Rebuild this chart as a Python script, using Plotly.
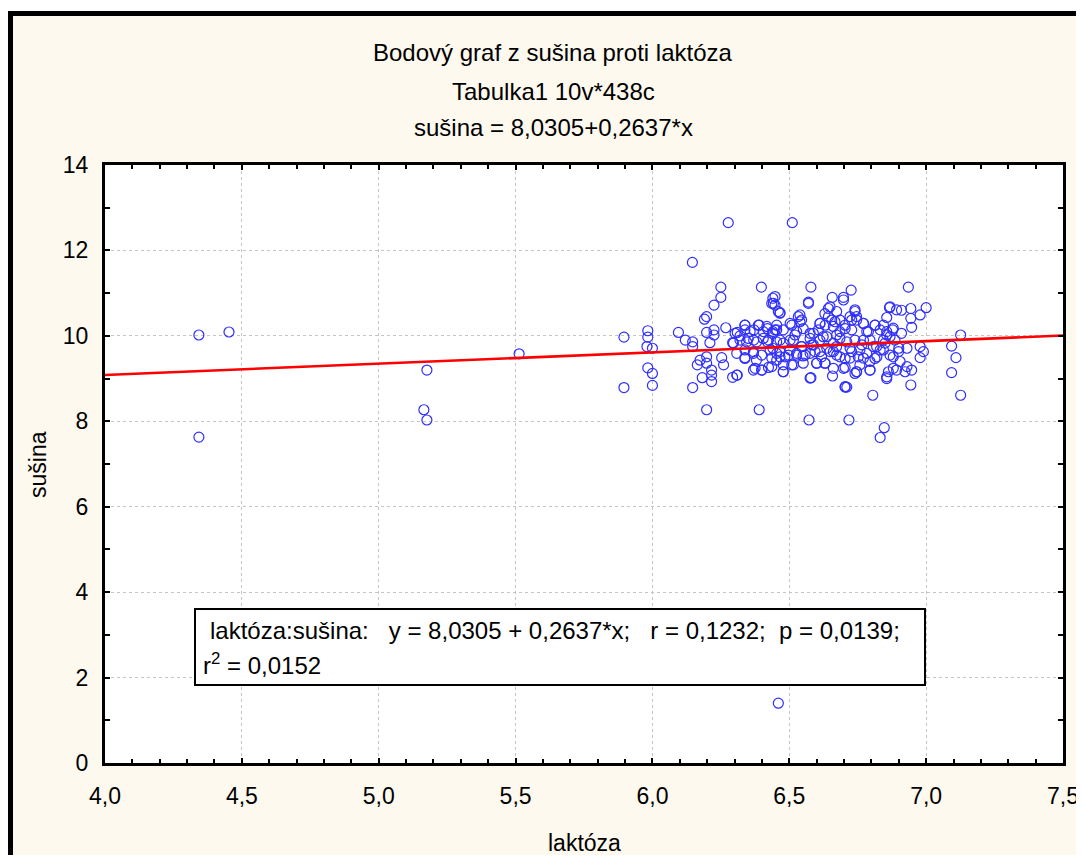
import plotly.graph_objects as go

# ---------------- data ----------------
laktoza = [
    4.343, 4.453, 4.343, 5.176, 5.165, 5.176, 5.513, 6.460, 6.277, 6.511, 6.146,
    5.896, 5.896, 5.983, 5.983, 5.980, 6.000, 5.983, 6.000, 6.000, 6.095, 6.120,
    6.147, 6.147, 6.147, 6.164, 6.182, 6.190, 6.198, 6.225, 6.250, 6.250, 6.198,
    6.225, 6.225, 6.210, 6.198, 6.198, 6.174, 6.216, 6.216, 6.216, 6.253, 6.260,
    6.198, 6.268, 6.293, 6.310, 6.398, 6.390, 6.293, 6.310, 6.320, 6.338, 6.338,
    6.371, 6.390, 6.405, 6.338, 6.338, 6.369, 6.380, 6.375, 6.400, 6.424, 6.344,
    6.370, 6.420, 6.440, 6.454, 6.440, 6.448, 6.460, 6.420, 6.440, 6.466, 6.436,
    6.454,
    6.448, 6.436, 6.466, 6.579, 6.570, 6.657, 6.698, 6.726, 6.935, 7.000, 6.978,
    6.944, 6.944, 6.910, 6.866, 6.856, 6.947, 6.910, 6.878, 6.856, 7.126, 7.093,
    7.109, 7.093, 7.126, 6.978, 6.990, 6.978, 6.930, 6.900, 6.880, 6.905, 6.930,
    6.947, 6.923, 6.892, 6.862, 6.856, 6.944, 6.805, 6.572, 6.718, 6.847, 6.832,
    6.704, 6.710, 6.579, 6.658, 6.740, 6.746, 6.795, 6.758, 6.704, 6.478, 6.478,
    6.515, 6.550, 6.600, 6.630,
    6.484, 6.527, 6.576, 6.612, 6.661, 6.685, 6.722, 6.771, 6.795, 6.820, 6.832,
    6.807, 6.758, 6.722, 6.673, 6.637, 6.588, 6.545, 6.503, 6.454,
    6.440, 6.478, 6.503, 6.533, 6.539, 6.551, 6.588, 6.612, 6.630, 6.643, 6.655,
    6.673, 6.685, 6.704, 6.728, 6.740, 6.746, 6.771, 6.789, 6.813, 6.832, 6.728,
    6.673, 6.624, 6.576, 6.503, 6.466, 6.771, 6.844, 6.868,
    6.302, 6.338, 6.357, 6.387, 6.418, 6.448, 6.454, 6.509, 6.527, 6.539, 6.545,
    6.521, 6.576, 6.606, 6.612, 6.631, 6.643, 6.661, 6.667, 6.685, 6.704, 6.722,
    6.740, 6.746, 6.771, 6.783, 6.813, 6.844, 6.856, 6.868, 6.892, 6.880,
    6.296, 6.320, 6.350, 6.381, 6.405, 6.424, 6.454, 6.478, 6.515, 6.545, 6.582,
    6.612, 6.637, 6.661, 6.685, 6.710, 6.740, 6.765, 6.795, 6.819, 6.850, 6.886,
    6.308, 6.338, 6.369, 6.399, 6.430, 6.466, 6.497, 6.527, 6.558, 6.594, 6.618,
    6.649, 6.673, 6.704, 6.728, 6.752, 6.783, 6.813, 6.844, 6.868, 6.899,
    6.308, 6.369, 6.399, 6.436, 6.478, 6.509, 6.551, 6.600, 6.631, 6.661, 6.698,
    6.746, 6.795, 6.856, 6.880,
    6.576, 6.704, 6.442, 6.466, 6.570, 6.649, 6.698,
]
susina = [
    10.02, 10.09, 7.63, 9.20, 8.27, 8.03, 9.58, 1.40, 12.65, 12.65, 11.72,
    9.97, 8.79, 10.12, 9.97, 9.75, 9.71, 9.25, 9.12, 8.84, 10.08, 9.90,
    9.86, 9.75, 8.79, 9.32, 9.02, 10.39, 10.45, 10.72, 10.90, 11.14, 10.08,
    10.14, 10.02, 9.84, 9.51, 9.36, 9.43, 9.20, 9.08, 8.93, 9.49, 9.32,
    8.27, 10.19, 9.03, 9.08, 11.14, 8.27, 9.84, 10.08, 10.00, 10.25, 10.14,
    10.14, 10.25, 10.10, 9.67, 9.49, 9.59, 9.43, 9.24, 9.20, 9.26, 9.86,
    9.90, 10.17, 10.06, 10.14, 10.88, 10.72, 10.57, 9.86, 9.71, 9.63, 9.48,
    9.43,
    10.92, 10.76, 10.54, 11.14, 10.79, 10.90, 10.90, 11.07, 11.14, 10.66, 10.49,
    10.64, 10.41, 10.60, 10.66, 10.43, 10.20, 10.06, 10.14, 10.02, 10.02, 9.76,
    9.49, 9.14, 8.61, 9.75, 9.63, 9.49, 9.71, 9.71, 9.51, 9.40, 9.28,
    9.20, 9.16, 9.20, 9.16, 9.00, 8.85, 8.61, 8.03, 8.03, 7.85, 7.62,
    8.80, 8.80, 9.02, 9.06, 9.12, 9.16, 9.20, 9.32, 9.26, 9.32, 9.16,
    9.32, 9.53, 9.36, 9.36,
    9.51, 9.55, 9.59, 9.63, 9.63, 9.51, 9.48, 9.48, 9.40, 9.51, 9.67,
    9.75, 9.67, 9.71, 9.75, 9.71, 9.79, 9.75, 9.67, 9.59,
    10.10, 10.14, 10.29, 10.45, 10.33, 10.17, 10.06, 10.29, 10.52, 10.64, 10.37,
    10.57, 10.37, 10.17, 10.37, 10.57, 10.45, 10.29, 10.10, 10.25, 10.14, 10.14,
    10.02, 9.98, 9.94, 9.90, 9.90, 9.90, 9.90, 9.98,
    10.06, 10.25, 10.10, 10.25, 10.22, 10.14, 10.25, 10.25, 10.10, 10.49, 10.37,
    10.02, 10.06, 10.14, 10.29, 10.25, 10.45, 10.22, 10.33, 10.10, 10.25, 10.45,
    10.61, 10.37, 10.29, 10.10, 10.25, 10.25, 10.10, 10.68, 10.61, 10.18,
    9.83, 9.90, 9.94, 9.86, 9.94, 9.90, 9.86, 9.83, 9.90, 9.75, 9.79,
    9.90, 9.98, 9.83, 9.94, 9.86, 9.90, 9.79, 9.90, 9.75, 9.83, 9.90,
    9.59, 9.47, 9.63, 9.55, 9.67, 9.51, 9.55, 9.59, 9.55, 9.63, 9.51,
    9.63, 9.55, 9.47, 9.63, 9.51, 9.59, 9.47, 9.67, 9.55, 9.63,
    9.08, 9.20, 9.20, 9.28, 9.16, 9.32, 9.36, 9.36, 9.36, 9.24, 9.24,
    9.16, 9.20, 9.04, 9.24,
    9.01, 8.81, 10.76, 10.53, 10.76, 10.68, 10.84,
]

intercept = 8.0305
slope = 0.2637
x_ticks = [4.0, 4.5, 5.0, 5.5, 6.0, 6.5, 7.0, 7.5]
y_ticks = [0, 2, 4, 6, 8, 10, 12, 14]
x_range = [4.0, 7.5]
y_range = [0, 14]

title_lines = [
    "Bodový graf z sušina proti laktóza",
    "Tabulka1 10v*438c",
    "sušina = 8,0305+0,2637*x",
]
box_line1 = ("laktóza:sušina:\u00a0\u00a0\u00a0y = 8,0305 + 0,2637*x;"
             "\u00a0\u00a0\u00a0r = 0,1232;\u00a0 p = 0,0139;")
box_line2 = "r<sup>2</sup> = 0,0152"

# ---------------- layout geometry (pixels within the figure) ----------------
W, H = 1076, 847
L, R, T, B = 97, 21, 157, 92
PW, PH = W - L - R, H - T - B


def fx(px):
    return (px - L) / PW


def fy(py):
    return 1 - (py - T) / PH


FONT = "Liberation Sans, Arial, sans-serif"
FS = 23
FS_TEXT = 24
CREAM = "#FEF9EE"

fig = go.Figure()

fig.add_trace(go.Scatter(
    x=laktoza, y=susina, mode="markers",
    marker=dict(symbol="circle-open", size=10, color="#2F2FFF",
                line=dict(width=1.2, color="#2F2FFF")),
    showlegend=False, hoverinfo="x+y",
))

fig.add_trace(go.Scatter(
    x=x_range, y=[intercept + slope * v for v in x_range], mode="lines",
    line=dict(color="#FF0000", width=2.6), showlegend=False,
))

axis_common = dict(
    showline=True, linecolor="black", linewidth=3, mirror="allticks",
    ticks="inside", tickcolor="black", tickwidth=2, ticklen=5,
    showgrid=True, gridcolor="#C4C4C4", gridwidth=1, griddash="dot",
    zeroline=False, automargin=False, ticklabeloverflow="allow",
    tickfont=dict(family=FONT, size=FS, color="black"),
)

fig.update_xaxes(
    range=x_range, tickmode="array", tickvals=x_ticks,
    ticktext=[f"{v:.1f}".replace(".", ",") for v in x_ticks],
    minor=dict(dtick=0.1, ticks="inside", ticklen=4, tickwidth=2,
               tickcolor="black", showgrid=False),
    ticklabelstandoff=10,
    **axis_common,
)
fig.update_yaxes(
    range=y_range, tickmode="array", tickvals=y_ticks,
    ticktext=[str(v) for v in y_ticks],
    minor=dict(dtick=1, ticks="inside", ticklen=5, tickwidth=2,
               tickcolor="black", showgrid=False),
    ticklabelstandoff=9,
    **axis_common,
)

shapes = [
    # white strip above the frame
    dict(type="rect", xref="paper", yref="paper", x0=fx(0), x1=fx(W),
         y0=fy(0), y1=fy(3), fillcolor="white", line=dict(width=0), layer="above"),
    # frame top edge
    dict(type="rect", xref="paper", yref="paper", x0=fx(0), x1=fx(W),
         y0=fy(3), y1=fy(8), fillcolor="black", line=dict(width=0), layer="above"),
    # frame left edge
    dict(type="rect", xref="paper", yref="paper", x0=fx(0), x1=fx(5),
         y0=fy(3), y1=fy(H), fillcolor="black", line=dict(width=0), layer="above"),
    # regression info box
    dict(type="rect", xref="paper", yref="paper", x0=fx(187), x1=fx(917),
         y0=fy(601), y1=fy(677), fillcolor="white",
         line=dict(color="black", width=2), layer="above"),
]

annotations = []
for txt, py in zip(title_lines, [44, 84, 120]):
    annotations.append(dict(
        text=txt, xref="paper", yref="paper", x=fx(545), y=fy(py),
        xanchor="center", yanchor="middle", showarrow=False,
        font=dict(family=FONT, size=FS_TEXT, color="black"),
    ))
annotations.append(dict(
    text=box_line1, xref="paper", yref="paper", x=fx(200), y=fy(622),
    xanchor="left", yanchor="middle", showarrow=False,
    font=dict(family=FONT, size=FS_TEXT, color="black"),
))
annotations.append(dict(
    text=box_line2, xref="paper", yref="paper", x=fx(193), y=fy(656),
    xanchor="left", yanchor="middle", showarrow=False,
    font=dict(family=FONT, size=FS_TEXT, color="black"),
))
annotations.append(dict(
    text="laktóza", xref="paper", yref="paper", x=fx(576), y=fy(835),
    xanchor="center", yanchor="middle", showarrow=False,
    font=dict(family=FONT, size=FS, color="black"),
))
annotations.append(dict(
    text="sušina", xref="paper", yref="paper", x=fx(30), y=fy(457),
    xanchor="center", yanchor="middle", showarrow=False, textangle=-90,
    font=dict(family=FONT, size=FS, color="black"),
))

fig.update_layout(
    width=W, height=H, autosize=False,
    margin=dict(l=L, r=R, t=T, b=B, pad=0),
    paper_bgcolor=CREAM, plot_bgcolor="white",
    shapes=shapes, annotations=annotations,
    font=dict(family=FONT, size=FS, color="black"),
    separators=",.",
)

fig.write_html("out.html")
